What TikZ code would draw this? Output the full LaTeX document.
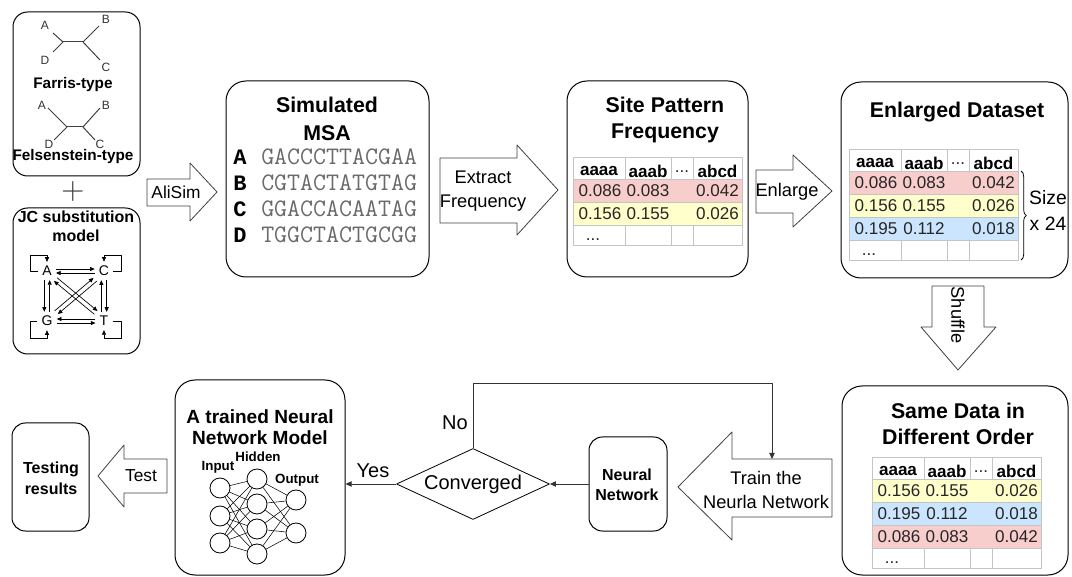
\documentclass[tikz,border=0pt]{standalone}
\usepackage{fontspec}
\setmainfont{Liberation Sans}
\setmonofont{Liberation Mono}
\newfontfamily\seqfont{Latin Modern Mono}
\newfontfamily\plusfont{Latin Modern Roman}
\usepackage{tikz}
\usetikzlibrary{arrows.meta}
\usetikzlibrary{shapes.geometric}
\usetikzlibrary{fit}
\usetikzlibrary{decorations.pathreplacing}

\definecolor{rowred}{HTML}{F8CECC}
\definecolor{rowyellow}{HTML}{FFFFCC}
\definecolor{rowblue}{HTML}{CCE5FF}
\definecolor{gridgray}{HTML}{C4C4C4}
\definecolor{seqgray}{HTML}{6A6A6A}

\tikzset{
  box/.style={draw, line width=0.75pt, rounded corners=15pt, inner sep=0pt},
  blockarrow/.style={draw=black!75, line width=0.6pt, fill=white},
  title/.style={font=\bfseries\fontsize{16}{20}\selectfont, align=center, inner sep=0pt},
  smalltitle/.style={font=\bfseries\fontsize{12}{15.5}\selectfont, align=center, inner sep=0pt},
  lbl/.style={font=\fontsize{13.7}{17.5}\selectfont, align=center, inner sep=0pt},
  cell/.style={font=\fontsize{12.8}{15}\selectfont, text=black!85, inner sep=0pt},
  hdcell/.style={font=\bfseries\fontsize{12.8}{15}\selectfont, inner sep=0pt},
  treeline/.style={line width=0.75pt, black!75},
  taxon/.style={font=\fontsize{9}{10}\selectfont, text=black!80, inner sep=1pt},
  base/.style={font=\fontsize{10.5}{12}\selectfont, inner sep=1.5pt},
  jc/.style={-{Triangle[length=3.5pt,width=3pt]}, line width=0.5pt, shorten >=1.5pt, shorten <=1.5pt},
  seq/.style={font=\seqfont\fontsize{18.9}{20}\selectfont, text=seqgray, anchor=west, inner sep=0pt},
  seqlbl/.style={font=\ttfamily\bfseries\fontsize{16.5}{18}\selectfont, inner sep=0pt},
  neuron/.style={draw, circle, fill=white, minimum size=15pt, inner sep=0pt, line width=0.6pt},
  synapse/.style={line width=0.4pt},
  flow/.style={-{Triangle[length=4.5pt,width=4pt]}, line width=0.6pt, black!80},
}

% frequency table: name, top-left corner, number of coloured rows, rows
\newcommand{\freqtable}[4]{%
  \begin{scope}[shift={#2}]
    \pgfmathsetmacro{\tbot}{22+23*#3+20}
    % coloured rows
    \foreach \clr/\va/\vb/\vc [count=\rw] in {#4} {
      \fill[\clr] (0,{22+23*(\rw-1)}) rectangle (169,{22+23*\rw});
      \node[cell] (#1-\rw-a) at (27,{33.5+23*(\rw-1)}) {\va};
      \node[cell] (#1-\rw-b) at (75,{33.5+23*(\rw-1)}) {\vb};
      \node[cell] (#1-\rw-d) at (144.5,{33.5+23*(\rw-1)}) {\vc};
    }
    % grid
    \draw[gridgray, line width=0.5pt] (0,22) -- (169,22);
    \foreach \yy in {1,...,#3}
      \draw[gridgray, line width=0.5pt] (0,{22+23*\yy}) -- (169,{22+23*\yy});
    \foreach \xx in {52,98,120} {
      \draw[gridgray, line width=0.5pt] (\xx,0) -- (\xx,22);
      \draw[gridgray, line width=0.5pt] (\xx,{22+23*#3}) -- (\xx,\tbot);
    }
    \draw[gridgray, line width=0.5pt] (0,0) rectangle (169,\tbot);
    % header
    \node[hdcell] (#1-h-a) at (26,14) {aaaa};
    \node[hdcell] (#1-h-b) at (75,14) {aaab};
    \node[cell] (#1-h-c) at (109,15) {...};
    \node[hdcell] (#1-h-d) at (144.5,14) {abcd};
    \node[cell] (#1-dots) at (20,{\tbot-5}) {...};
  \end{scope}}

\begin{document}
\begin{tikzpicture}[x=0.75pt, y=-0.75pt, line join=round]
        \useasboundingbox (0,0) rectangle (1072,577);

        %------------------
        % trees
        %------------------
        \node[box, rounded corners=11pt, fit={(13,12) (140,176)}] (treebox) {};

        % Farris-type
        \coordinate (f1) at (63,42);
        \coordinate (f2) at (83,42);
        \draw[treeline] (f1) -- (f2);
        \draw[treeline] (f1) -- ++(-10,-9);
        \draw[treeline] (f1) -- ++(-10,10);
        \draw[treeline] (f2) -- ++(16,-16);
        \draw[treeline] (f2) -- ++(17,18);
        \node[taxon] (fA) at (45,25) {A};
        \node[taxon] (fB) at (106,19) {B};
        \node[taxon] (fD) at (45,60) {D};
        \node[taxon] (fC) at (106,67) {C};
        \node[smalltitle, font=\bfseries\fontsize{11.5}{13}\selectfont] (farris) at (73,85) {Farris-type};

        % Felsenstein-type
        \coordinate (s1) at (67,127);
        \coordinate (s2) at (83,127);
        \draw[treeline] (s1) -- (s2);
        \draw[treeline] (s1) -- ++(-19,-19);
        \draw[treeline] (s1) -- ++(-13,13);
        \draw[treeline] (s2) -- ++(17,-19);
        \draw[treeline] (s2) -- ++(12,13);
        \node[taxon] (sA) at (42,105) {A};
        \node[taxon] (sB) at (106,105) {B};
        \node[taxon] (sD) at (49,144) {D};
        \node[taxon] (sC) at (100,144) {C};
        \node[smalltitle, font=\bfseries\fontsize{11.5}{13}\selectfont] (felsen) at (73,157) {Felsenstein-type};

        \node[font=\plusfont\fontsize{24}{26}\selectfont, text=black!80] (plus) at (73,192) {+};

        %------------------
        % JC model
        %------------------
        \node[box, rounded corners=11pt, fit={(13,208) (140,354)}] (jcbox) {};
        \node[smalltitle, font=\bfseries\fontsize{12}{14.5}\selectfont] (jctitle) at (76,226) {JC substitution\\model};

        \node[base] (jA) at (47,271) {A};
        \node[base] (jC) at (104,271) {C};
        \node[base] (jG) at (47,321) {G};
        \node[base] (jT) at (104,321) {T};

        \draw[jc] ([yshift=1.5pt]jA.east) -- ([yshift=1.5pt]jC.west);
        \draw[jc] ([yshift=-1.5pt]jC.west) -- ([yshift=-1.5pt]jA.east);
        \draw[jc] ([yshift=1.5pt]jT.west) -- ([yshift=1.5pt]jG.east);
        \draw[jc] ([yshift=-1.5pt]jG.east) -- ([yshift=-1.5pt]jT.west);
        \draw[jc] ([xshift=-2pt]jA.south) -- ([xshift=-2pt]jG.north);
        \draw[jc] ([xshift=2pt]jG.north) -- ([xshift=2pt]jA.south);
        \draw[jc] ([xshift=-2pt]jT.north) -- ([xshift=-2pt]jC.south);
        \draw[jc] ([xshift=2pt]jC.south) -- ([xshift=2pt]jT.north);
        \draw[jc] ([shift={(1.2pt,1.2pt)}]jA.south east) -- ([shift={(1.2pt,1.2pt)}]jT.north west);
        \draw[jc] ([shift={(-1.2pt,-1.2pt)}]jT.north west) -- ([shift={(-1.2pt,-1.2pt)}]jA.south east);
        \draw[jc] ([shift={(1.2pt,-1.2pt)}]jC.south west) -- ([shift={(1.2pt,-1.2pt)}]jG.north east);
        \draw[jc] ([shift={(-1.2pt,1.2pt)}]jG.north east) -- ([shift={(-1.2pt,1.2pt)}]jC.south west);

        % self loops
        \draw[jc] (jA.west) -| (30,255) -| (jA.north);
        \draw[jc] (jC.east) -| (121,255) -| (jC.north);
        \draw[jc] (jG.west) -| (30,338) -| (jG.south);
        \draw[jc] (jT.east) -| (121,338) -| (jT.south);

        %------------------
        % block arrows
        %------------------
        \draw[blockarrow] (147,179) -- (190,179) -- (190,163) -- (217,192)
          -- (190,221) -- (190,206) -- (147,206) -- cycle;
        \node[lbl, font=\fontsize{13}{15}\selectfont] (alisim) at (176,192) {AliSim};

        \draw[blockarrow] (440,158) -- (517,158) -- (517,145) -- (558,190)
          -- (517,235) -- (517,223) -- (440,223) -- cycle;
        \node[lbl] (extract) at (483,191) {Extract\\Frequency};

        \draw[blockarrow] (756,170) -- (793,170) -- (793,155) -- (832,191)
          -- (793,227) -- (793,213) -- (756,213) -- cycle;
        \node[lbl] (enlarge) at (787,192) {Enlarge};

        \draw[blockarrow] (932,286) -- (984,286) -- (984,327) -- (996,327)
          -- (958,370) -- (921,327) -- (932,327) -- cycle;
        \node[lbl, rotate=-90] (shuffle) at (958,315) {Shuffle};

        \draw[blockarrow] (832,459) -- (732,459) -- (732,432) -- (678,487)
          -- (732,540) -- (732,517) -- (832,517) -- cycle;
        \node[lbl, font=\fontsize{13.7}{18}\selectfont] (train) at (766,490) {Train the\\Neurla Network};

        \draw[blockarrow] (167,459) -- (124,459) -- (124,445) -- (98,476)
          -- (124,507) -- (124,493) -- (167,493) -- cycle;
        \node[lbl, font=\fontsize{13}{15}\selectfont] (test) at (141,476) {Test};

        %------------------
        % simulated MSA
        %------------------
        \node[box, fit={(226,81) (429,277)}] (msa) {};
        \node[title, font=\bfseries\fontsize{16}{21}\selectfont] (msatitle) at (327,119) {Simulated\\MSA};
        \foreach \tx/\sq [count=\i] in {A/GACCCTTACGAA, B/CGTACTATGTAG, C/GGACCACAATAG, D/TGGCTACTGCGG} {
          \node[seqlbl] (msa-t\i) at (240,{131+26*\i}) {\tx};
          \node[seq] (msa-s\i) at (261,{131+26*\i}) {\sq};
        }

        %------------------
        % site pattern frequency
        %------------------
        \node[box, fit={(567,81) (748,277)}] (spf) {};
        \node[title, font=\bfseries\fontsize{16}{19.5}\selectfont] (spftitle) at (665,120) {Site Pattern\\Frequency};
        \freqtable{spft}{(573,157)}{2}{rowred/0.086/0.083/0.042, rowyellow/0.156/0.155/0.026}

        %------------------
        % enlarged dataset
        %------------------
        \node[box, fit={(841,82) (1068,278)}] (enl) {};
        \node[title] (enltitle) at (957,112) {Enlarged Dataset};
        \freqtable{enlt}{(849,149)}{3}{rowred/0.086/0.083/0.042, rowyellow/0.156/0.155/0.026, rowblue/0.195/0.112/0.018}
        \draw[decorate, decoration={brace, amplitude=4pt}, line width=0.6pt] (1021,171) -- (1021,260);
        \node[lbl, font=\fontsize{14.5}{19.5}\selectfont] (size) at (1048,210) {Size\\x 24};

        %------------------
        % same data in different order
        %------------------
        \node[box, fit={(842,386) (1068,575)}] (same) {};
        \node[title, font=\bfseries\fontsize{16}{19}\selectfont] (sametitle) at (958,424) {Same Data in\\Different Order};
        \freqtable{samet}{(872,457)}{3}{rowyellow/0.156/0.155/0.026, rowblue/0.195/0.112/0.018, rowred/0.086/0.083/0.042}

        %------------------
        % training loop
        %------------------
        \node[box, rounded corners=10pt, fit={(589,437) (667,531)}] (nn) {};
        \node[smalltitle, font=\bfseries\fontsize{12}{15}\selectfont] (nntext) at (627,485) {Neural\\Network};

        \node[diamond, draw, line width=0.6pt, aspect=2.15, inner sep=0pt,
          minimum width=114.75pt, minimum height=53.25pt,
          font=\fontsize{15}{18}\selectfont] (conv) at (473,484) {Converged};

        \coordinate (traintop) at (772,459);
        \draw[flow] (nn.west) -- (conv.east);
        \draw[flow] (conv.north) -- ++(0,-65) -| (traintop);
        \node[lbl, font=\fontsize{15}{18}\selectfont] (no) at (455,423) {No};

        %------------------
        % trained model
        %------------------
        \node[box, fit={(175,380) (345,575)}] (trained) {};
        \node[title, font=\bfseries\fontsize{14.3}{15.5}\selectfont] (trainedtitle) at (260,427) {A trained Neural\\Network Model};
        \draw[flow] (conv.west) -- (conv.west -| trained.east);
        \node[lbl, font=\fontsize{15}{18}\selectfont] (yes) at (373,471) {Yes};

        \foreach \yy [count=\i] in {488,516,543} \node[neuron] (in\i) at (220,\yy) {};
        \foreach \yy [count=\i] in {479,504,529,554} \node[neuron] (hid\i) at (257,\yy) {};
        \foreach \yy [count=\i] in {500,533} \node[neuron] (out\i) at (296,\yy) {};
        \foreach \i in {1,2,3} \foreach \j in {1,...,4} \draw[synapse] (in\i) -- (hid\j);
        \foreach \j in {1,...,4} \foreach \k in {1,2} \draw[synapse] (hid\j) -- (out\k);
        \node[smalltitle, font=\bfseries\fontsize{10}{12}\selectfont] (inlbl) at (218,467) {Input};
        \node[smalltitle, font=\bfseries\fontsize{10}{12}\selectfont] (hidlbl) at (258,457) {Hidden};
        \node[smalltitle, font=\bfseries\fontsize{10}{12}\selectfont] (outlbl) at (297,480) {Output};

        %------------------
        % testing results
        %------------------
        \node[box, rounded corners=10pt, fit={(12,423) (89,531)}] (testing) {};
        \node[smalltitle, font=\bfseries\fontsize{12}{15.75}\selectfont] (testingtext) at (51,478) {Testing\\results};
      \end{tikzpicture}
\end{document}
